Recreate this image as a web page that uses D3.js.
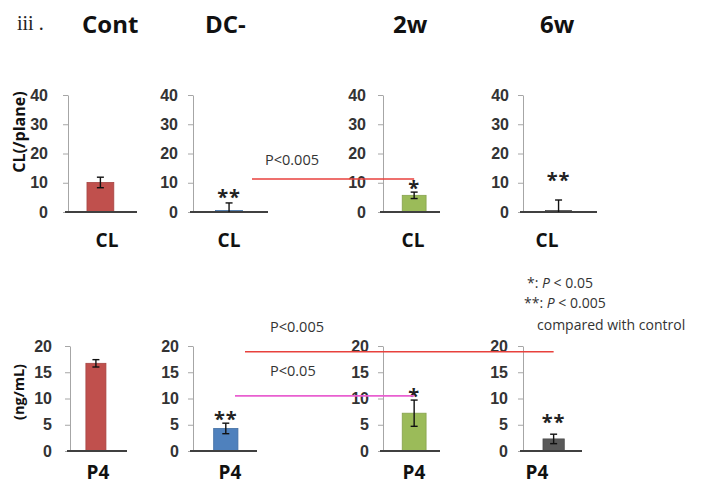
<!DOCTYPE html>
<html lang="en">
<head>
<meta charset="utf-8">
<script src="https://cdnjs.cloudflare.com/ajax/libs/d3/7.8.5/d3.min.js"></script>
<style>
  body { margin: 0; background: #ffffff; }
  svg { display: block; font-family: "Open Sans", sans-serif; }
  .tick text { font-weight: bold; font-size: 16px; fill: #333333; }
</style>
</head>
<body>
<svg id="chart" width="703" height="485"></svg>
<script>
// ---- data ----
var groups = ["Cont", "DC-", "2w", "6w"];
var barColors = ["#c0504d", "#4f81bd", "#9bbb59", "#595959"];

var clMeans = [10.1, 0.5, 5.7, 0.5];
var clErrs  = [1.8, 2.6, 1.1, 3.6];
var clStars = ["", "**", "*", "**"];
var clStarAt = [0, 6.5, 9.6, 12.3];   // y value where the star sits
var clTicks = [0, 10, 20, 30, 40];

var p4Means = [16.7, 4.3, 7.2, 2.3];
var p4Errs  = [0.7, 1.0, 2.5, 0.9];
var p4Stars = ["", "**", "*", "**"];
var p4StarAt = [0, 6.9, 11.2, 6.3];
var p4Ticks = [0, 5, 10, 15, 20];

var clCompare = [{from: 1, to: 2, y: 11.3, label: "P<0.005"}];
var p4Compare = [{from: 1, to: 3, y: 18.9, label: "P<0.005", color: "#e8413c"},
                 {from: 1, to: 2, y: 10.5, label: "P<0.05", color: "#e95fd0"}];

var svg = d3.select("#chart");

// ---- layout of the two rows of small panels ----
var rows = [
  { cat: "CL", means: clMeans, errs: clErrs, stars: clStars, starAt: clStarAt,
    ticks: clTicks, max: 40, y0: 212, y1: 95,
    axisX: [68, 193, 383, 523], endX: [137, 268, 440, 597],
    align: [0.45, 0.47, 0.58, 0.47], pad: [0.44, 0.47, 0.41, 0.48],
    tickPad: [15, 10, 12, 9], labelX: [107, 229, 413, 547], labelY: 247,
    compare: clCompare, lineStart: [252], textX: [265], textDy: -14 },
  { cat: "P4", means: p4Means, errs: p4Errs, stars: p4Stars, starAt: p4StarAt,
    ticks: p4Ticks, max: 20, y0: 451, y1: 346,
    axisX: [70, 193, 383, 523], endX: [127, 257, 440, 582],
    align: [0.43, 0.52, 0.58, 0.53], pad: [0.48, 0.45, 0.41, 0.47],
    tickPad: [13, 9, 9, 10], labelX: [98, 230, 414, 537], labelY: 479,
    compare: p4Compare, lineStart: [245, 235], textX: [270, 270], textDy: -20 }
];

rows.forEach(function(row) {
  var y = d3.scaleLinear().domain([0, row.max]).range([row.y0, row.y1]);
  var centers = [];

  groups.forEach(function(g, i) {
    var x = d3.scaleBand().domain([g])
      .range([row.axisX[i], row.endX[i]])
      .padding(row.pad[i]).align(row.align[i]);
    var cx = x(g) + x.bandwidth() / 2;
    centers.push(cx);

    var gAxis = svg.append("g")
      .attr("transform", "translate(" + row.axisX[i] + ",0)")
      .call(d3.axisLeft(y).tickValues(row.ticks).tickSize(5).tickSizeOuter(0).tickPadding(row.tickPad[i]));
    gAxis.select(".domain").attr("stroke", "#a6a6a6");
    gAxis.selectAll(".tick line").attr("stroke", "#a6a6a6");

    // bar
    svg.append("rect")
      .attr("x", x(g)).attr("width", x.bandwidth())
      .attr("y", y(row.means[i])).attr("height", y(0) - y(row.means[i]))
      .attr("fill", barColors[i])
      .attr("stroke", d3.color(barColors[i]).darker(0.4)).attr("stroke-width", 0.8);

    // baseline
    svg.append("line")
      .attr("x1", row.axisX[i] - 3).attr("x2", row.endX[i])
      .attr("y1", y(0)).attr("y2", y(0))
      .attr("stroke", "#404040").attr("stroke-width", 2);

    // error bar
    var lo = Math.max(0, row.means[i] - row.errs[i]), hi = row.means[i] + row.errs[i];
    var eb = svg.append("g").attr("stroke", "#111").attr("stroke-width", 1.4);
    eb.append("line").attr("x1", cx).attr("x2", cx).attr("y1", y(lo)).attr("y2", y(hi));
    eb.append("line").attr("x1", cx - 3.5).attr("x2", cx + 3.5).attr("y1", y(hi)).attr("y2", y(hi));
    if (row.means[i] - row.errs[i] > 0)
      eb.append("line").attr("x1", cx - 3.5).attr("x2", cx + 3.5).attr("y1", y(lo)).attr("y2", y(lo));

    // significance stars
    if (row.stars[i]) {
      svg.append("text")
        .attr("x", cx).attr("y", y(row.starAt[i]) + 11)
        .attr("text-anchor", "middle")
        .attr("font-size", 20).attr("font-weight", "bold").attr("fill", "#222")
        .attr("letter-spacing", 1)
        .text(row.stars[i]);
    }

    // category label
    svg.append("text")
      .attr("x", row.labelX[i]).attr("y", row.labelY)
      .attr("text-anchor", "middle")
      .attr("font-size", 19).attr("font-weight", "bold").attr("fill", "#111")
      .text(row.cat);
  });

  // comparison lines between groups
  row.compare.forEach(function(c, k) {
    var ly = y(c.y);
    svg.append("line")
      .attr("x1", row.lineStart[k]).attr("x2", centers[c.to])
      .attr("y1", ly).attr("y2", ly)
      .attr("stroke", c.color || "#e8413c").attr("stroke-width", 1.6);
    svg.append("text")
      .attr("x", row.textX[k]).attr("y", ly + row.textDy)
      .attr("font-size", 14.5).attr("fill", "#333")
      .text(c.label);
  });
});

// ---- titles ----
svg.append("text").attr("x", 17).attr("y", 30)
  .attr("font-family", "Liberation Serif, serif").attr("font-size", 20).attr("fill", "#222")
  .text("iii .");
var titleX = [82, 205, 393, 540];
groups.forEach(function(g, i) {
  svg.append("text").attr("x", titleX[i]).attr("y", 33)
    .attr("font-size", 24).attr("font-weight", "bold").attr("fill", "#111")
    .text(g);
});

// y axis titles
svg.append("text")
  .attr("transform", "translate(25,132) rotate(-90)")
  .attr("text-anchor", "middle")
  .attr("font-size", 16).attr("font-weight", "bold").attr("fill", "#111")
  .text("CL(/plane)");
svg.append("text")
  .attr("transform", "translate(24,392) rotate(-90)")
  .attr("text-anchor", "middle")
  .attr("font-size", 14.5).attr("font-weight", "bold").attr("fill", "#111")
  .text("(ng/mL)");

// legend
var leg = svg.append("g").attr("font-size", 14).attr("fill", "#333");
var l1 = leg.append("text").attr("x", 527).attr("y", 288);
l1.append("tspan").text("*: ");
l1.append("tspan").attr("font-style", "italic").text("P");
l1.append("tspan").text(" < 0.05");
var l2 = leg.append("text").attr("x", 524).attr("y", 308);
l2.append("tspan").text("**: ");
l2.append("tspan").attr("font-style", "italic").text("P");
l2.append("tspan").text(" < 0.005");
leg.append("text").attr("x", 537).attr("y", 330).text("compared with control");
</script>
</body>
</html>
